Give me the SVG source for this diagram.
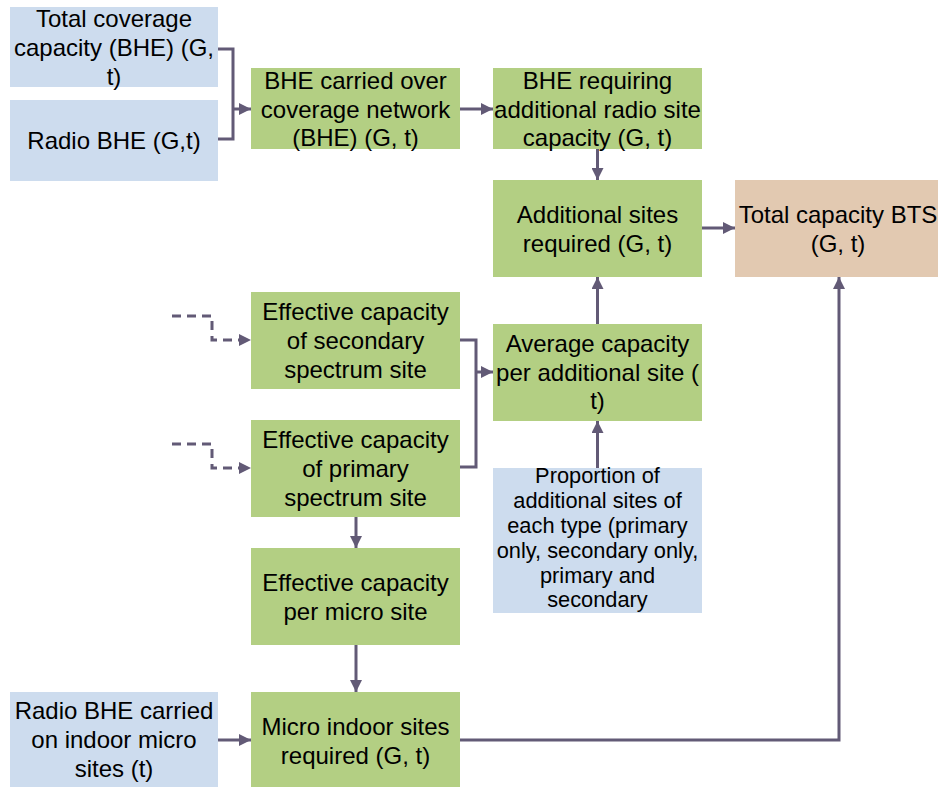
<svg xmlns="http://www.w3.org/2000/svg" width="938" height="787" viewBox="0 0 938 787">
<style>
.blue{fill:#CDDCEE}
.green{fill:#B3CF83}
.tan{fill:#E2C9B1}
text{font-family:"Liberation Sans",Arial,sans-serif;font-size:24px;fill:#000;text-anchor:middle}
.small{font-size:21.8px}
.line{fill:none;stroke:#625A76;stroke-width:3}
.dash{stroke-dasharray:9 6}
</style>
<defs>
<marker id="ah" viewBox="0 0 10 10" refX="10" refY="5" markerWidth="4" markerHeight="4" markerUnits="strokeWidth" orient="auto">
<path d="M0,0 L10,5 L0,10 z" fill="#625A76"/>
</marker>
</defs>
<rect width="938" height="787" fill="#fff"/>

<g id="total-coverage">
<rect class="blue" x="10" y="7" width="208" height="80"/>
<text x="114" y="27">Total coverage</text>
<text x="114" y="56">capacity (BHE) (G,</text>
<text x="114" y="85">t)</text>
</g>
<g id="radio-bhe">
<rect class="blue" x="10" y="100" width="208" height="81"/>
<text x="114" y="149">Radio BHE (G,t)</text>
</g>
<g id="bhe-carried">
<rect class="green" x="251" y="68" width="209" height="81"/>
<text x="355.5" y="89">BHE carried over</text>
<text x="355.5" y="118">coverage network</text>
<text x="355.5" y="146">(BHE) (G, t)</text>
</g>
<g id="bhe-requiring">
<rect class="green" x="493" y="68" width="209" height="81"/>
<text x="597.5" y="89">BHE requiring</text>
<text x="597.5" y="118">additional radio site</text>
<text x="597.5" y="146">capacity (G, t)</text>
</g>
<g id="additional-sites">
<rect class="green" x="493" y="180" width="209" height="97"/>
<text x="597.5" y="223">Additional sites</text>
<text x="597.5" y="252">required (G, t)</text>
</g>
<g id="total-capacity">
<rect class="tan" x="735" y="180" width="209" height="97"/>
<text x="838" y="223">Total capacity BTS</text>
<text x="838" y="252">(G, t)</text>
</g>
<g id="secondary">
<rect class="green" x="251" y="292" width="209" height="97"/>
<text x="355.5" y="320">Effective capacity</text>
<text x="355.5" y="349">of secondary</text>
<text x="355.5" y="378">spectrum site</text>
</g>
<g id="primary">
<rect class="green" x="251" y="420" width="209" height="97"/>
<text x="355.5" y="448">Effective capacity</text>
<text x="355.5" y="477">of primary</text>
<text x="355.5" y="506">spectrum site</text>
</g>
<g id="average">
<rect class="green" x="493" y="324" width="209" height="97"/>
<text x="597.5" y="352">Average capacity</text>
<text x="597.5" y="381">per additional site (</text>
<text x="597.5" y="409">t)</text>
</g>
<g id="proportion">
<rect class="blue" x="493" y="468" width="209" height="145"/>
<text class="small" x="597.5" y="483">Proportion of</text>
<text class="small" x="597.5" y="508">additional sites of</text>
<text class="small" x="597.5" y="533">each type (primary</text>
<text class="small" x="597.5" y="558">only, secondary only,</text>
<text class="small" x="597.5" y="583">primary and</text>
<text class="small" x="597.5" y="607">secondary</text>
</g>
<g id="micro-site">
<rect class="green" x="251" y="548" width="209" height="97"/>
<text x="355.5" y="591">Effective capacity</text>
<text x="355.5" y="620">per micro site</text>
</g>
<g id="radio-indoor">
<rect class="blue" x="10" y="692" width="208" height="95"/>
<text x="114" y="719">Radio BHE carried</text>
<text x="114" y="748">on indoor micro</text>
<text x="114" y="777">sites (t)</text>
</g>
<g id="micro-indoor">
<rect class="green" x="251" y="692" width="209" height="95"/>
<text x="355.5" y="735">Micro indoor sites</text>
<text x="355.5" y="764">required (G, t)</text>
</g>

<g id="connectors">
<path class="line" d="M218,49 H233 V139 H218"/>
<path class="line" d="M233,109 H251" marker-end="url(#ah)"/>
<path class="line" d="M460,109 H493" marker-end="url(#ah)"/>
<path class="line" d="M597.5,149 V180" marker-end="url(#ah)"/>
<path class="line" d="M702,228 H735" marker-end="url(#ah)"/>
<path class="line" d="M597.5,324 V277" marker-end="url(#ah)"/>
<path class="line" d="M597.5,468 V421" marker-end="url(#ah)"/>
<path class="line" d="M460,340 H476 V467 H460"/>
<path class="line" d="M476,372 H493" marker-end="url(#ah)"/>
<path class="line dash" d="M172,316 H212 V340 H251" marker-end="url(#ah)"/>
<path class="line dash" d="M172,444 H212 V468 H251" marker-end="url(#ah)"/>
<path class="line" d="M356,517 V548" marker-end="url(#ah)"/>
<path class="line" d="M356,645 V692" marker-end="url(#ah)"/>
<path class="line" d="M218,740 H251" marker-end="url(#ah)"/>
<path class="line" d="M460,740 H839 V277" marker-end="url(#ah)"/>
</g>
</svg>
